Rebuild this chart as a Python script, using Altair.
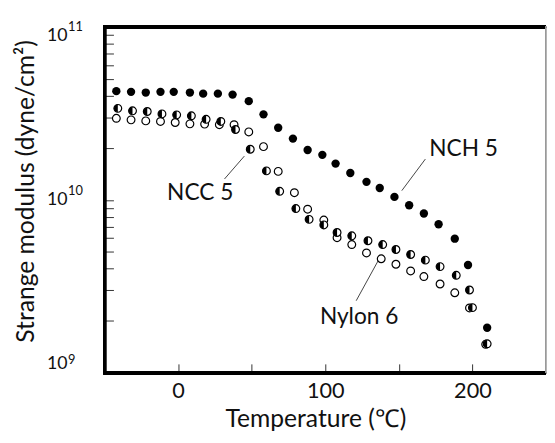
import altair as alt
import pandas as pd

# --- data ---
nch_t = [-42, -32, -22, -12, -3, 8, 17, 27, 37, 48, 58, 68, 78, 88, 98, 107, 117, 128, 137, 147, 157, 167, 177, 188, 197, 210]
nch_g = [4.25e10, 4.21e10, 4.17e10, 4.21e10, 4.21e10, 4.17e10, 4.11e10, 4.11e10, 4.06e10, 3.72e10,
         3.12e10, 2.61e10, 2.26e10, 1.94e10, 1.82e10, 1.62e10, 1.43e10, 1.27e10, 1.17e10, 1.04e10,
         9.3e9, 8.34e9, 7.22e9, 5.96e9, 4.20e9, 1.82e9]

ncc_t = [-41, -31, -21, -11, -1, 9, 19, 29, 39, 49, 60, 69, 80, 89, 99, 108, 118, 129, 139, 148, 158, 168, 178, 189, 198, 200, 210]
ncc_g = [3.38e10, 3.27e10, 3.24e10, 3.14e10, 3.10e10, 3.06e10, 2.92e10, 2.84e10, 2.55e10, 1.96e10,
         1.47e10, 1.12e10, 8.9e9, 7.71e9, 7.16e9, 6.47e9, 6.19e9, 5.80e9, 5.51e9, 5.16e9,
         4.83e9, 4.48e9, 4.11e9, 3.66e9, 3.01e9, 2.38e9, 1.47e9]

nyl_t = [-42, -32, -22, -12, -2, 8, 18, 28, 38, 48, 58, 68, 79, 88, 99, 108, 118, 128, 138, 148, 158, 167, 178, 188, 198, 209]
nyl_g = [2.96e10, 2.90e10, 2.86e10, 2.84e10, 2.80e10, 2.75e10, 2.74e10, 2.72e10, 2.72e10, 2.47e10,
         2.03e10, 1.46e10, 1.10e10, 8.83e9, 7.64e9, 6.04e9, 5.51e9, 4.93e9, 4.56e9, 4.24e9,
         3.88e9, 3.60e9, 3.26e9, 2.90e9, 2.37e9, 1.46e9]

# annotations (data coordinates)
label_text = ["NCH 5", "NCC 5", "Nylon 6"]
label_t = [194, 15, 123]
label_g = [1.96e10, 1.09e10, 2.11e9]
leader_t1 = [168, 45, 137]
leader_g1 = [1.72e10, 1.79e10, 4.62e9]
leader_t2 = [152, 31.5, 121]
leader_g2 = [1.13e10, 1.32e10, 2.61e9]

x_ticks = [0, 50, 100, 150, 200]
y_ticks = [m * 10 ** e for e in (9, 10) for m in range(1, 10)] + [1e11]
decades = [1e9, 1e10, 1e11]
exponents = ["9", "10", "11"]

W, H = 448, 351
FONT = "Lato"
INK = "#111"

nch = pd.DataFrame({"t": nch_t, "g": nch_g})
ncc = pd.DataFrame({"t": ncc_t, "g": ncc_g})
nyl = pd.DataFrame({"t": nyl_t, "g": nyl_g})
labels = pd.DataFrame({"text": label_text, "t": label_t, "g": label_g})
leaders = pd.DataFrame({"t1": leader_t1, "g1": leader_g1, "t2": leader_t2, "g2": leader_g2})

xs = alt.Scale(domain=[-50, 250], nice=False, zero=False)
ys = alt.Scale(type="log", domain=[1e9, 1e11], nice=False)

x_axis = alt.Axis(
    values=x_ticks, labelExpr="datum.value % 100 == 0 ? datum.label : ''",
    title="Temperature (℃)", grid=False, domain=False, offset=-9, tickSize=9,
    tickColor="#333", tickWidth=1, labelFontSize=22, labelFont=FONT, labelPadding=8,
    titleFontSize=25, titleFont=FONT, titleFontWeight="normal", titlePadding=6,
    titleX=W / 2 - 10, titleAlign="center",
    labelColor=INK, titleColor=INK,
)
y_axis = alt.Axis(
    values=y_ticks,
    labelExpr="datum.value == 1e9 || datum.value == 1e10 || datum.value == 1e11 ? '10' : ''",
    labelFlush=True,
    title="Strange modulus (dyne/cm²)", grid=False, domain=False, offset=-9, tickSize=9,
    tickColor="#333", tickWidth=1, labelFontSize=18, labelFont=FONT, labelPadding=38,
    titleFontSize=25, titleFont=FONT, titleFontWeight="normal", titlePadding=8,
    titleY=H / 2 - 9, titleAlign="center",
    labelColor=INK, titleColor=INK,
)

X = alt.X("t:Q", scale=xs, axis=x_axis)
Y = alt.Y("g:Q", scale=ys, axis=y_axis)
Xn = alt.X("t:Q", scale=xs)
Yn = alt.Y("g:Q", scale=ys)

base_axes = alt.Chart(nyl).mark_point(opacity=0).encode(x=X, y=Y)

nyl_layer = alt.Chart(nyl).mark_point(
    shape="circle", size=62, filled=False, stroke="black", strokeWidth=1.2, fill="white", fillOpacity=1
).encode(x=Xn, y=Yn)

ncc_ring = alt.Chart(ncc).mark_point(
    shape="circle", size=62, filled=False, stroke="black", strokeWidth=1.2, fill="white", fillOpacity=1
).encode(x=Xn, y=Yn)
ncc_half = alt.Chart(ncc).mark_point(
    shape="M0,-1 A1,1 0 0,0 0,1 Z", size=62, filled=True, color="black", opacity=1
).encode(x=Xn, y=Yn)

nch_layer = alt.Chart(nch).mark_point(
    shape="circle", size=72, filled=True, color="black", opacity=1
).encode(x=Xn, y=Yn)

leader_layer = alt.Chart(leaders).mark_rule(color="#444", strokeWidth=1).encode(
    x=alt.X("t1:Q", scale=xs), y=alt.Y("g1:Q", scale=ys),
    x2="t2:Q", y2="g2:Q",
)
text_layer = alt.Chart(labels).mark_text(
    font=FONT, fontSize=23, color=INK, align="center", baseline="middle"
).encode(x=Xn, y=Yn, text="text:N")

# superscript exponents of the y tick labels (10^9, 10^10, 10^11)
exp_df = pd.DataFrame({"g": decades, "e": exponents, "t": [-50] * 3})
exp_dy = {"9": -13, "10": -9, "11": 0}
exp_layers = []
for e, dy in exp_dy.items():
    exp_layers.append(
        alt.Chart(exp_df).transform_filter(alt.datum.e == e).mark_text(
            font=FONT, fontSize=13, color=INK, align="left", baseline="middle", dx=-37, dy=dy
        ).encode(x=Xn, y=Yn, text="e:N")
    )

frame_top = alt.Chart(nyl).mark_rule(color="black", strokeWidth=3).encode(
    x=alt.value(-1), x2=alt.value(W), y=alt.value(0))
frame_left = alt.Chart(nyl).mark_rule(color="black", strokeWidth=3).encode(
    x=alt.value(0), y=alt.value(-1), y2=alt.value(H + 1))
frame_bottom = alt.Chart(nyl).mark_rule(color="black", strokeWidth=3).encode(
    x=alt.value(-1), x2=alt.value(W), y=alt.value(H))
frame_right = alt.Chart(nyl).mark_rule(color="#999", strokeWidth=1).encode(
    x=alt.value(W - 0.5), y=alt.value(0), y2=alt.value(H))

chart = alt.layer(
    base_axes, leader_layer, nyl_layer, ncc_ring, ncc_half, nch_layer, text_layer,
    *exp_layers,
    frame_top, frame_left, frame_bottom, frame_right,
).properties(
    width=W, height=H,
    autosize=alt.AutoSizeParams(type="none"),
    padding={"left": 98, "top": 16, "right": 1, "bottom": 60},
).configure_view(stroke=None).configure(background="white")

chart.save("out.html", embed_options={"renderer": "svg", "actions": False})
